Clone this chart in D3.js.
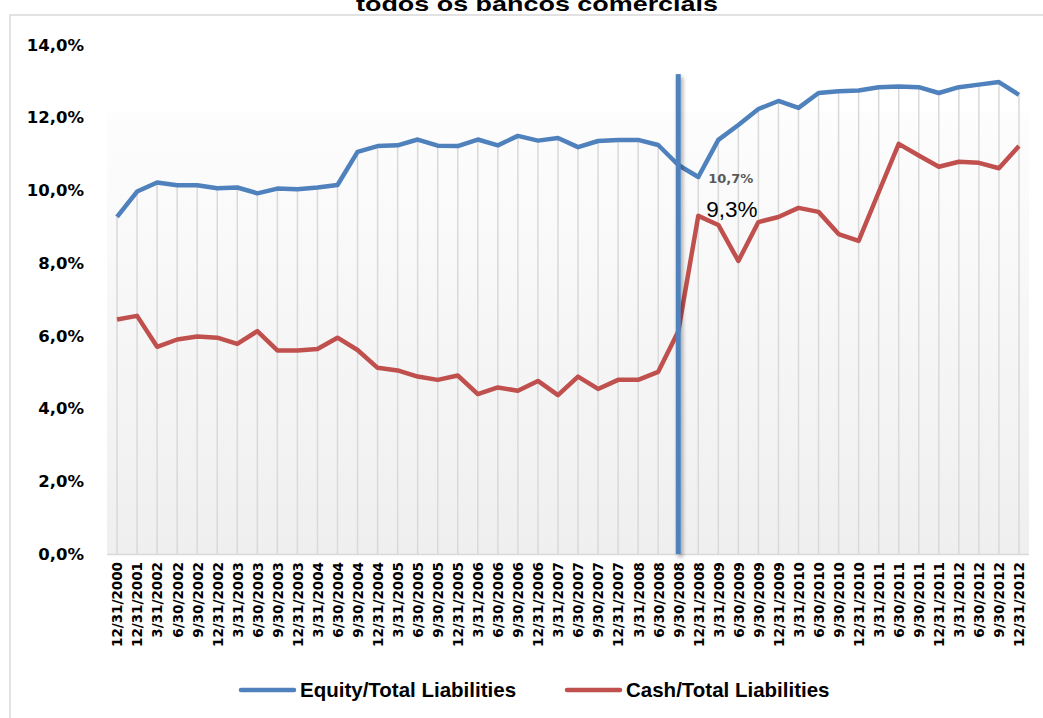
<!DOCTYPE html>
<html>
<head>
<meta charset="utf-8">
<script src="https://cdn.jsdelivr.net/npm/d3@7"></script>
<style>
  html, body { margin: 0; padding: 0; background: #fff; }
  svg { display: block; }
</style>
</head>
<body>
<svg id="chart" width="1043" height="718"></svg>
<script>
// Quarter-end dates on the category axis
const categories = [
  "12/31/2000","12/31/2001",
  "3/31/2002","6/30/2002","9/30/2002","12/31/2002",
  "3/31/2003","6/30/2003","9/30/2003","12/31/2003",
  "3/31/2004","6/30/2004","9/30/2004","12/31/2004",
  "3/31/2005","6/30/2005","9/30/2005","12/31/2005",
  "3/31/2006","6/30/2006","9/30/2006","12/31/2006",
  "3/31/2007","6/30/2007","9/30/2007","12/31/2007",
  "3/31/2008","6/30/2008","9/30/2008","12/31/2008",
  "3/31/2009","6/30/2009","9/30/2009","12/31/2009",
  "3/31/2010","6/30/2010","9/30/2010","12/31/2010",
  "3/31/2011","6/30/2011","9/30/2011","12/31/2011",
  "3/31/2012","6/30/2012","9/30/2012","12/31/2012"
];

// Equity / Total Liabilities (%)
const equityRatio = [
  9.27, 9.97,
  10.22, 10.14, 10.14, 10.06,
  10.08, 9.92, 10.05, 10.03,
  10.08, 10.15, 11.06, 11.22,
  11.24, 11.40, 11.23, 11.22,
  11.40, 11.24, 11.50, 11.37,
  11.44, 11.19, 11.36, 11.39,
  11.39, 11.25, 10.70, 10.37,
  11.39, 11.80, 12.24, 12.46,
  12.27, 12.68, 12.73, 12.75,
  12.84, 12.86, 12.84, 12.68,
  12.84, 12.91, 12.98, 12.63
];

// Cash / Total Liabilities (%)
const cashRatio = [
  6.45, 6.55,
  5.70, 5.90, 5.98, 5.95,
  5.78, 6.13, 5.60, 5.60,
  5.64, 5.95, 5.61, 5.12,
  5.05, 4.88, 4.79, 4.91,
  4.40, 4.58, 4.49, 4.76,
  4.37, 4.88, 4.54, 4.79,
  4.79, 5.01, 6.12, 9.30,
  9.05, 8.06, 9.13, 9.27,
  9.52, 9.41, 8.80, 8.61,
  9.95, 11.28, 10.96, 10.65,
  10.79, 10.76, 10.61, 11.22
];

const yTicks = [0, 2, 4, 6, 8, 10, 12, 14];

const seriesNames = ["Equity/Total Liabilities", "Cash/Total Liabilities"];
const seriesColors = ["#4f81bd", "#c0504d"];

// Point labels and the marker for the 9/30/2008 quarter
const markerDate = "9/30/2008";
const markerTop = 13.2;
const equityLabel = { date: "9/30/2008", text: "10,7%", value: 10.7 };
const cashLabel = { date: "12/31/2008", text: "9,3%", value: 9.3 };

const fmtPct = v => d3.format(".1f")(v).replace(".", ",") + "%";

const svg = d3.select("#chart");
const defs = svg.append("defs");

const grad = defs.append("linearGradient")
  .attr("id", "plotFill").attr("x1", 0).attr("y1", 0).attr("x2", 0).attr("y2", 1);
grad.append("stop").attr("offset", "0%").attr("stop-color", "#fdfdfd");
grad.append("stop").attr("offset", "100%").attr("stop-color", "#efefef");

const shadow = defs.append("filter").attr("id", "shadow")
  .attr("filterUnits", "userSpaceOnUse")
  .attr("x", 0).attr("y", 0).attr("width", 1043).attr("height", 718);
shadow.append("feDropShadow")
  .attr("dx", 2).attr("dy", 3).attr("stdDeviation", 2)
  .attr("flood-color", "#000").attr("flood-opacity", 0.35);

const x = d3.scalePoint().domain(categories).range([107, 1029]).padding(0.5);
const y = d3.scaleLinear().domain([0, 14]).range([554, 45]);

// Title line (upper part runs off the top edge)
svg.append("text")
  .attr("x", 537).attr("y", 11)
  .attr("text-anchor", "middle")
  .attr("font-family", "Liberation Sans, Arial, sans-serif")
  .attr("font-weight", "bold")
  .attr("font-size", 21)
  .attr("textLength", 362)
  .attr("lengthAdjust", "spacingAndGlyphs")
  .attr("fill", "#000")
  .text("todos os bancos comerciais");

// Chart frame
svg.append("rect")
  .attr("x", 10).attr("y", 15).attr("width", 1060).attr("height", 730)
  .attr("fill", "none").attr("stroke", "#d9d9d9").attr("stroke-width", 1.5);

// Plot area background
svg.append("rect")
  .attr("x", 107).attr("y", 112).attr("width", 922).attr("height", y(0) - 112 + 1)
  .attr("fill", "url(#plotFill)");

// Drop lines from the upper series to the axis
svg.append("g").selectAll("line")
  .data(categories)
  .join("line")
  .attr("x1", d => x(d)).attr("x2", d => x(d))
  .attr("y1", (d, i) => y(Math.max(equityRatio[i], cashRatio[i])))
  .attr("y2", y(0))
  .attr("stroke", "#d9d9d9").attr("stroke-width", 1.5);

// Category axis line
svg.append("line")
  .attr("x1", 107).attr("x2", 1029).attr("y1", y(0) + 0.5).attr("y2", y(0) + 0.5)
  .attr("stroke", "#d9d9d9").attr("stroke-width", 1.5);

// Y axis labels
const yAxis = d3.axisLeft(y).tickValues(yTicks).tickFormat(fmtPct).tickSize(0).tickPadding(0);
const yg = svg.append("g").attr("transform", "translate(84,0)").call(yAxis);
yg.select(".domain").remove();
yg.selectAll("text")
  .attr("font-family", "DejaVu Sans, Verdana, sans-serif")
  .attr("font-weight", "bold")
  .attr("font-size", 16.5)
  .attr("fill", "#000");

// X axis labels, rotated
const xAxis = d3.axisBottom(x).tickSize(0).tickPadding(0);
const xg = svg.append("g").attr("transform", `translate(0,${y(0)})`).call(xAxis);
xg.select(".domain").remove();
xg.selectAll("text")
  .attr("font-family", "DejaVu Sans, Verdana, sans-serif")
  .attr("font-weight", "bold")
  .attr("font-size", 13.5)
  .attr("fill", "#000")
  .attr("text-anchor", "end")
  .attr("transform", "rotate(-90)")
  .attr("x", -8)
  .attr("y", 0)
  .attr("dy", "0.36em");

// Series lines
const line = d3.line()
  .x(d => x(d.date))
  .y(d => y(d.value));

const series = [equityRatio, cashRatio].map((vals, k) => ({
  name: seriesNames[k],
  color: seriesColors[k],
  points: categories.map((c, i) => ({ date: c, value: vals[i] }))
}));

svg.append("g").selectAll("path")
  .data(series.slice().reverse())
  .join("path")
  .attr("d", d => line(d.points))
  .attr("fill", "none")
  .attr("stroke", d => d.color)
  .attr("stroke-width", 4.5)
  .attr("stroke-linejoin", "round");

// Marker line at the 9/30/2008 quarter, drawn over the series
svg.append("rect")
  .attr("x", x(markerDate) - 2.5)
  .attr("y", y(markerTop))
  .attr("width", 5)
  .attr("height", y(0) - y(markerTop))
  .attr("fill", seriesColors[0])
  .attr("filter", "url(#shadow)");

// Value labels
svg.append("text")
  .attr("x", x(equityLabel.date) + 30)
  .attr("y", y(equityLabel.value) + 18)
  .attr("font-family", "DejaVu Sans, Verdana, sans-serif")
  .attr("font-weight", "bold")
  .attr("font-size", 13)
  .attr("fill", "#595959")
  .text(equityLabel.text);

svg.append("text")
  .attr("x", x(cashLabel.date) + 8)
  .attr("y", y(cashLabel.value) + 1)
  .attr("font-family", "Liberation Sans, Arial, sans-serif")
  .attr("font-size", 22.5)
  .attr("fill", "#000")
  .text(cashLabel.text);

// Legend
const legendItems = [
  { name: seriesNames[0], color: seriesColors[0], x: 241 },
  { name: seriesNames[1], color: seriesColors[1], x: 567 }
];
const lg = svg.append("g").selectAll("g")
  .data(legendItems)
  .join("g")
  .attr("transform", d => `translate(${d.x},690)`);
lg.append("line")
  .attr("x1", 0).attr("x2", 53).attr("y1", 0).attr("y2", 0)
  .attr("stroke", d => d.color).attr("stroke-width", 4.5).attr("stroke-linecap", "round");
lg.append("text")
  .attr("x", 59).attr("y", 0).attr("dy", "0.36em")
  .attr("font-family", "Liberation Sans, Arial, sans-serif")
  .attr("font-weight", "bold")
  .attr("font-size", 20.5)
  .attr("fill", "#000")
  .text(d => d.name);
</script>
</body>
</html>
